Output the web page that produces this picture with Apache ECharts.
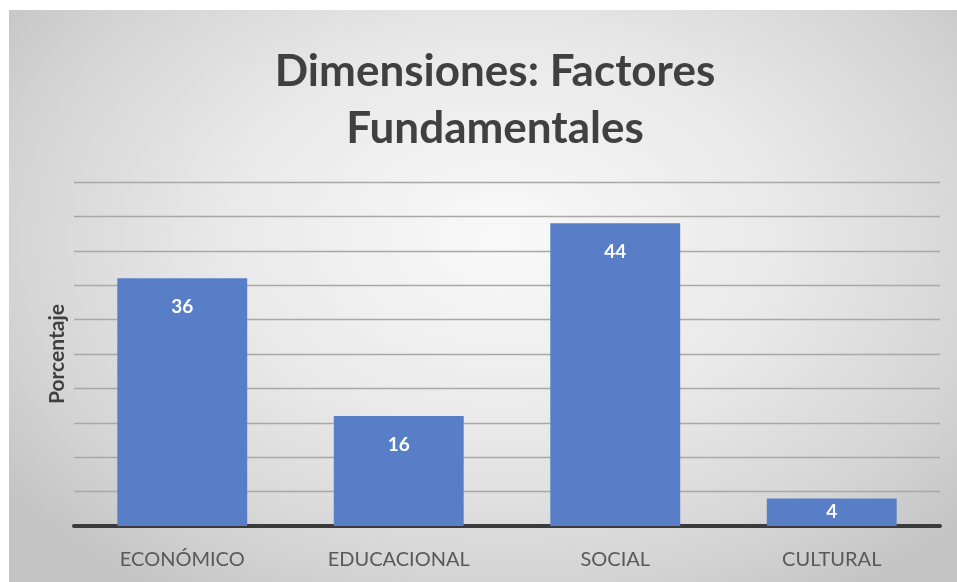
<!DOCTYPE html>
<html>
<head>
<meta charset="utf-8">
<script src="https://cdn.jsdelivr.net/npm/echarts@6/dist/echarts.min.js"></script>
<style>
html,body{margin:0;padding:0;background:#fff;}
#wrap{position:absolute;left:9px;top:10px;width:948px;height:572px;
background:radial-gradient(ellipse 65% 75% at 52% 40%, #f9f9f9 0%, #e9e9e9 45%, #d4d4d4 80%, #c4c4c4 100%);}
#chart{position:absolute;left:0;top:0;width:957px;height:582px;}
</style>
</head>
<body>
<div id="wrap"></div>
<div id="chart"></div>
<script>
const titleText = 'Dimensiones: Factores\nFundamentales';
const yAxisName = 'Porcentaje';
const categories = ['ECONÓMICO', 'EDUCACIONAL', 'SOCIAL', 'CULTURAL'];
const values = [36, 16, 44, 4];
const yMin = 0, yMax = 50, yInterval = 5;

const seriesData = values.map(v => v < 8
  ? {value: v, label: {position: 'inside'}}
  : {value: v});

const chart = echarts.init(document.getElementById('chart'));
chart.setOption({
  animation: false,
  title: {
    text: titleText,
    left: 490, top: 38, textAlign: 'center',
    textStyle: {fontFamily: 'Lato', fontWeight: 'bold', fontSize: 44, lineHeight: 57, color: '#404040'}
  },
  grid: {left: 74, right: 17, top: 182, bottom: 56},
  xAxis: {
    type: 'category', data: categories,
    axisLine: {show: true, lineStyle: {color: '#3a3a3a', width: 4}},
    axisTick: {show: false},
    axisLabel: {color: '#595959', fontFamily: 'Lato', fontSize: 20, margin: 24}
  },
  yAxis: {
    type: 'value', min: yMin, max: yMax, interval: yInterval,
    name: yAxisName, nameLocation: 'middle', nameGap: 6, nameRotate: 90,
    nameTextStyle: {color: '#404040', fontFamily: 'Lato', fontWeight: 'bold', fontSize: 21},
    axisLabel: {show: false}, axisLine: {show: false}, axisTick: {show: false},
    splitLine: {lineStyle: {color: '#a8a8a8', width: 1.3}}
  },
  series: [{
    type: 'bar', data: seriesData, barWidth: '60%',
    itemStyle: {color: '#587ec8'},
    label: {show: true, position: 'insideTop', distance: 19, color: '#fff',
      fontFamily: 'Lato', fontWeight: 'bold', fontSize: 19}
  }]
});
</script>
</body>
</html>
